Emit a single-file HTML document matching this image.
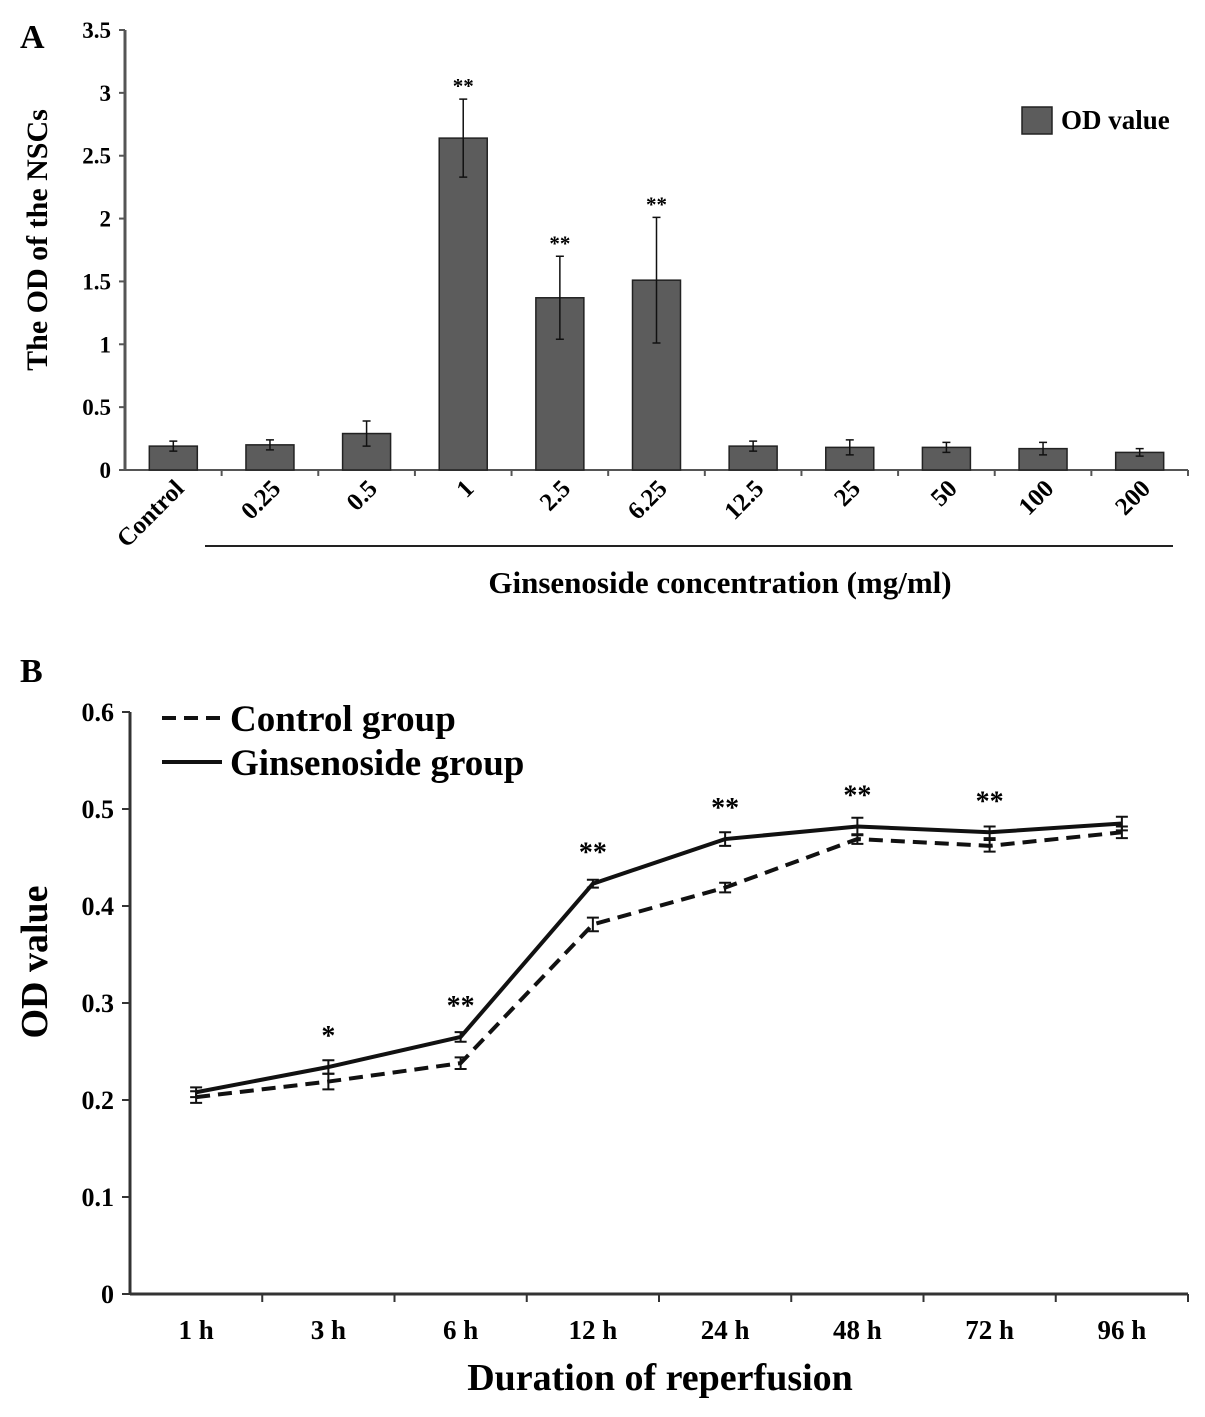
<!DOCTYPE html>
<html><head><meta charset="utf-8"><style>
body{margin:0;background:#fff;}
svg{display:block;font-family:"Liberation Serif",serif;font-weight:bold;}
</style></head><body>
<svg id="chart" width="1205" height="1417" viewBox="0 0 1205 1417">
<text x="20" y="48" font-size="34">A</text>
<text x="20" y="682" font-size="34">B</text>
<g id="pa"></g>
<g id="pb"></g>
</svg>
<script>
const catsA=["Control","0.25","0.5","1","2.5","6.25","12.5","25","50","100","200"];
const valsA=[0.19,0.20,0.29,2.64,1.37,1.51,0.19,0.18,0.18,0.17,0.14];
const errsA=[0.04,0.04,0.10,0.31,0.33,0.50,0.04,0.06,0.04,0.05,0.03];
const sigA=["","","","**","**","**","","","","",""];
const ticksA=[0,0.5,1,1.5,2,2.5,3,3.5];
const catsB=["1 h","3 h","6 h","12 h","24 h","48 h","72 h","96 h"];
const ctrlB=[0.203,0.219,0.238,0.381,0.419,0.469,0.462,0.476];
const ginsB=[0.208,0.234,0.265,0.423,0.469,0.482,0.476,0.485];
const ctrlErrB=[0.006,0.008,0.006,0.007,0.005,0.005,0.006,0.006];
const ginsErrB=[0.005,0.007,0.005,0.004,0.007,0.009,0.006,0.007];
const sigB=["","*","**","**","**","**","**",""];
const ticksB=[0,0.1,0.2,0.3,0.4,0.5,0.6];

const NS="http://www.w3.org/2000/svg";
function mk(p,t,a,txt){const e=document.createElementNS(NS,t);for(const k in a)e.setAttribute(k,a[k]);if(txt!==undefined)e.textContent=txt;p.appendChild(e);return e;}

// Panel A
const pa=document.getElementById('pa');
const ax0=125,ax1=1188,ay0=470,ay1=30;
const yA=v=>ay0-(v/3.5)*(ay0-ay1);
const bw=(ax1-ax0)/catsA.length;
const xA=i=>ax0+bw*(i+0.5);
let e;
e=mk(pa,'line',{x1:ax0,y1:ay1,x2:ax0,y2:ay0,stroke:'#555','stroke-width':3});


e=mk(pa,'line',{x1:ax0,y1:ay0,x2:ax1,y2:ay0,stroke:'#555','stroke-width':2});


ticksA.forEach(t=>{
  mk(pa,'line',{x1:ax0-6,y1:yA(t),x2:ax0,y2:yA(t),stroke:'#555','stroke-width':2});
  e=mk(pa,'text',{x:ax0-14,y:yA(t)+8,'font-size':23,'text-anchor':'end'},String(t));
  
  
});
catsA.forEach((c,i)=>{
  const x=xA(i),w=48;
  mk(pa,'line',{x1:ax0+bw*(i+1),y1:ay0,x2:ax0+bw*(i+1),y2:ay0+6,stroke:'#555','stroke-width':2});
  e=mk(pa,'rect',{x:x-w/2,y:yA(valsA[i]),width:w,height:ay0-yA(valsA[i]),fill:'#5c5c5c',stroke:'#222','stroke-width':1.5});
  
  
  const t=yA(valsA[i]+errsA[i]),b=yA(valsA[i]-errsA[i]);
  e=mk(pa,'path',{d:`M${x},${t}V${b}M${x-4},${t}H${x+4}M${x-4},${b}H${x+4}`,stroke:'#111','stroke-width':1.5,fill:'none'});
  
  
  if(sigA[i]){e=mk(pa,'text',{x:x,y:t-6,'font-size':21,'text-anchor':'middle'},sigA[i]);
    
    }
  e=mk(pa,'text',{x:x+12,y:ay0+20,'font-size':25,'text-anchor':'end',transform:`rotate(-45 ${x+12} ${ay0+20})`},c);
  
  
});
mk(pa,'line',{x1:205,y1:546,x2:1173,y2:546,stroke:'#222','stroke-width':2});
e=mk(pa,'text',{x:720,y:593,'font-size':31,'text-anchor':'middle'},'Ginsenoside concentration (mg/ml)');


e=mk(pa,'text',{x:0,y:0,'font-size':30,'text-anchor':'middle',transform:'translate(47,240) rotate(-90)'},'The OD of the NSCs');


e=mk(pa,'rect',{x:1022,y:107,width:30,height:27,fill:'#5c5c5c',stroke:'#222','stroke-width':1.5});


e=mk(pa,'text',{x:1061,y:129,'font-size':27},'OD value');



// Panel B
const pb=document.getElementById('pb');
const bx0=130,bx1=1188,by0=1294,by1=712;
const yB=v=>by0-(v/0.6)*(by0-by1);
const sw=(bx1-bx0)/catsB.length;
const xB=i=>bx0+sw*(i+0.5);
e=mk(pb,'line',{x1:bx0,y1:by1,x2:bx0,y2:by0,stroke:'#333','stroke-width':3});


e=mk(pb,'line',{x1:bx0,y1:by0,x2:bx1,y2:by0,stroke:'#333','stroke-width':3});


ticksB.forEach(t=>{
  mk(pb,'line',{x1:bx0-8,y1:yB(t),x2:bx0,y2:yB(t),stroke:'#333','stroke-width':2});
  e=mk(pb,'text',{x:bx0-16,y:yB(t)+9,'font-size':26,'text-anchor':'end'},String(t));
  
  
});
catsB.forEach((c,i)=>{
  mk(pb,'line',{x1:bx0+sw*(i+1),y1:by0,x2:bx0+sw*(i+1),y2:by0+8,stroke:'#333','stroke-width':2});
  e=mk(pb,'text',{x:xB(i),y:by0+45,'font-size':27,'text-anchor':'middle'},c);
  
  
});
function series(vals,errs,dash,name){
  e=mk(pb,'polyline',{points:vals.map((v,i)=>xB(i)+','+yB(v)).join(' '),fill:'none',stroke:'#111','stroke-width':4,'stroke-dasharray':dash});
  
  
  vals.forEach((v,i)=>{const x=xB(i),t=yB(v+errs[i]),b=yB(v-errs[i]);
    e=mk(pb,'path',{d:`M${x},${t}V${b}M${x-6},${t}H${x+6}M${x-6},${b}H${x+6}`,stroke:'#111','stroke-width':2,fill:'none'});
    
    
  });
}
series(ctrlB,ctrlErrB,'14,8','control-line');
series(ginsB,ginsErrB,'none','ginsenoside-line');
sigB.forEach((s,i)=>{if(!s)return;
  e=mk(pb,'text',{x:xB(i),y:yB(Math.max(ginsB[i],ctrlB[i]))-22,'font-size':28,'text-anchor':'middle'},s);
  
  
});
e=mk(pb,'text',{x:660,y:1390,'font-size':38,'text-anchor':'middle'},'Duration of reperfusion');


e=mk(pb,'text',{x:0,y:0,'font-size':38,'text-anchor':'middle',transform:'translate(47,962) rotate(-90)'},'OD value');


mk(pb,'line',{x1:162,y1:718,x2:222,y2:718,stroke:'#111','stroke-width':4,'stroke-dasharray':'14,8'});
e=mk(pb,'text',{x:230,y:731,'font-size':37},'Control group');


mk(pb,'line',{x1:162,y1:762,x2:222,y2:762,stroke:'#111','stroke-width':4});
e=mk(pb,'text',{x:230,y:775,'font-size':37},'Ginsenoside group');


</script>
</body></html>
